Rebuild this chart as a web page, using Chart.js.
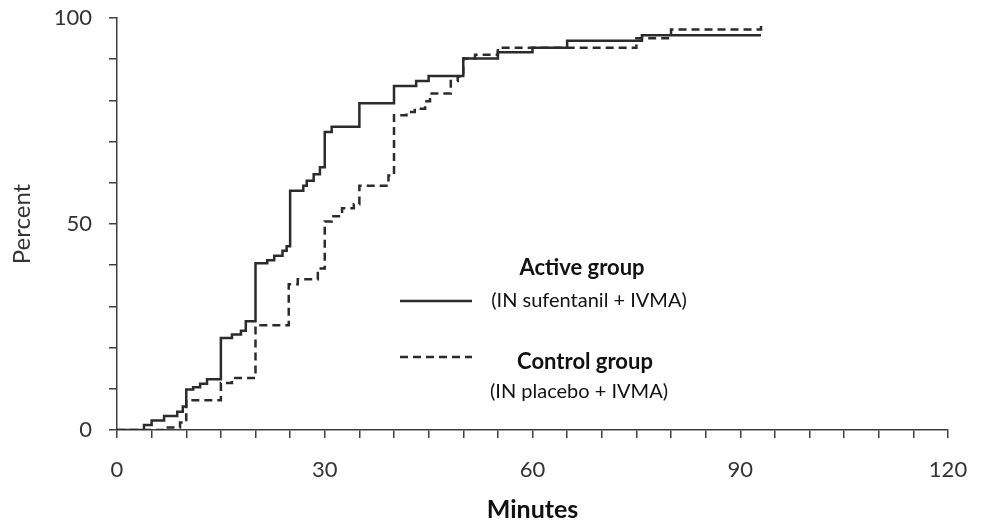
<!DOCTYPE html>
<html>
<head>
<meta charset="utf-8">
<script src="https://cdn.jsdelivr.net/npm/chart.js@4/dist/chart.umd.min.js"></script>
<style>
  body { margin: 0; background: #fff; }
  #wrap { width: 986px; height: 521px; }
</style>
</head>
<body>
<div id="wrap"><canvas id="kmChart" width="986" height="521"></canvas></div>
<script>
// cumulative percent over time (step curve)
const activeMinutes = [0, 3.9, 5, 6.8, 8.7, 9.5, 10, 11, 12, 13, 15, 16.6, 17.9, 18.6, 20, 21.7, 22.7, 23.9, 24.5, 25, 26.9, 27.4, 28.4, 29.3, 30, 31, 35, 40, 43.2, 45, 50, 55, 60, 65, 75.8, 93];
const activePercent = [0, 1.2, 2.3, 3.4, 4.4, 5.7, 9.8, 10.4, 11.2, 12.3, 22.3, 23.2, 24.1, 26.4, 40.5, 41.2, 42.3, 43.5, 44.6, 58.1, 59.3, 60.5, 62.1, 63.8, 72.3, 73.6, 79.3, 83.5, 84.7, 85.9, 90.2, 91.7, 92.8, 94.5, 95.8, 95.8];

const controlMinutes = [0, 6.8, 9.1, 10, 15, 16.6, 20, 24.8, 26.1, 29, 30, 31, 32.5, 34.2, 35, 39.2, 40, 41.8, 43, 44.5, 45.2, 48.2, 49.2, 50, 51.7, 55, 75, 80, 93];
const controlPercent = [0, 0.6, 1.8, 7.2, 11.4, 12.6, 25.4, 35.4, 36.6, 39.2, 50.6, 51.9, 53.8, 54.8, 59.3, 61.8, 76.4, 77.2, 78, 79.8, 81.7, 84.7, 85.8, 90.2, 91.1, 92.8, 95.1, 97.2, 98.6];

const seriesNames = ["Active group", "Control group"];
const seriesNotes = ["(IN sufentanil + IVMA)", "(IN placebo + IVMA)"];
const xTickLabels = [0, 30, 60, 90, 120];
const yTickLabels = [0, 50, 100];

const ink = "#2b2b2b";
const axisInk = "#3f3f3f";
const fontFamily = "Lato, 'Open Sans', sans-serif";

function toPoints(xs, ys) {
  return xs.map((x, i) => ({ x: x, y: ys[i] }));
}

// legend drawn inside the plot, like the original figure
const legendInPlot = {
  id: "legendInPlot",
  afterDraw(chart) {
    const ctx = chart.ctx;
    const ca = chart.chartArea;
    const lx1 = ca.left + 283, lx2 = ca.left + 355;
    const rows = [
      { lineY: 301, nameY: 268, noteY: 301, nameX: 582, noteX: 589, dash: [] },
      { lineY: 357, nameY: 362, noteY: 392, nameX: 585, noteX: 579, dash: [8, 5] }
    ];
    ctx.save();
    rows.forEach((r, i) => {
      ctx.strokeStyle = ink;
      ctx.lineWidth = 2.5;
      ctx.setLineDash(r.dash);
      ctx.beginPath();
      ctx.moveTo(lx1, r.lineY);
      ctx.lineTo(lx2, r.lineY);
      ctx.stroke();
      ctx.setLineDash([]);
      ctx.fillStyle = "#111";
      ctx.textAlign = "center";
      ctx.textBaseline = "middle";
      ctx.font = "bold 22px " + fontFamily;
      ctx.fillText(seriesNames[i], r.nameX, r.nameY);
      ctx.font = "20px " + fontFamily;
      ctx.fillText(seriesNotes[i], r.noteX, r.noteY);
    });
    ctx.restore();
  }
};

new Chart(document.getElementById("kmChart"), {
  type: "line",
  data: {
    datasets: [
      {
        label: seriesNames[0],
        data: toPoints(activeMinutes, activePercent),
        borderColor: ink,
        borderWidth: 2.5,
        stepped: true,
        pointRadius: 0,
        fill: false
      },
      {
        label: seriesNames[1],
        data: toPoints(controlMinutes, controlPercent),
        borderColor: ink,
        borderWidth: 2.5,
        borderDash: [8, 5],
        stepped: true,
        pointRadius: 0,
        fill: false
      }
    ]
  },
  options: {
    responsive: false,
    animation: false,
    layout: { padding: { top: 18, right: 38, left: 0, bottom: 0 } },
    plugins: {
      legend: { display: false },
      tooltip: { enabled: false }
    },
    scales: {
      x: {
        type: "linear",
        min: 0,
        max: 120,
        afterFit: s => { s.height = 91; s.paddingLeft = 0; s.paddingRight = 0; },
        border: { display: true, color: axisInk, width: 1.5 },
        grid: { drawOnChartArea: false, drawTicks: true, tickLength: 8, color: axisInk, lineWidth: 1.5 },
        ticks: {
          stepSize: 5,
          autoSkip: false,
          maxRotation: 0,
          padding: 19,
          color: "#333",
          font: { family: fontFamily, size: 22 },
          callback: v => xTickLabels.includes(v) ? String(v) : ""
        },
        title: {
          display: true,
          text: "Minutes",
          color: "#111",
          font: { family: fontFamily, size: 25, weight: "bold" },
          padding: { top: 0, bottom: -4 }
        }
      },
      y: {
        min: 0,
        max: 100,
        afterFit: s => { s.width = 117; s.paddingTop = 0; s.paddingBottom = 0; },
        border: { display: true, color: axisInk, width: 1.5 },
        grid: { drawOnChartArea: false, drawTicks: true, tickLength: 8, color: axisInk, lineWidth: 1.5 },
        ticks: {
          stepSize: 10,
          autoSkip: false,
          padding: 17,
          color: "#333",
          font: { family: fontFamily, size: 22 },
          callback: v => yTickLabels.includes(v) ? String(v) : ""
        },
        title: {
          display: true,
          text: "Percent",
          color: "#333",
          font: { family: fontFamily, size: 24 },
          padding: { top: 8, bottom: 0 }
        }
      }
    }
  },
  plugins: [legendInPlot]
});
</script>
</body>
</html>
